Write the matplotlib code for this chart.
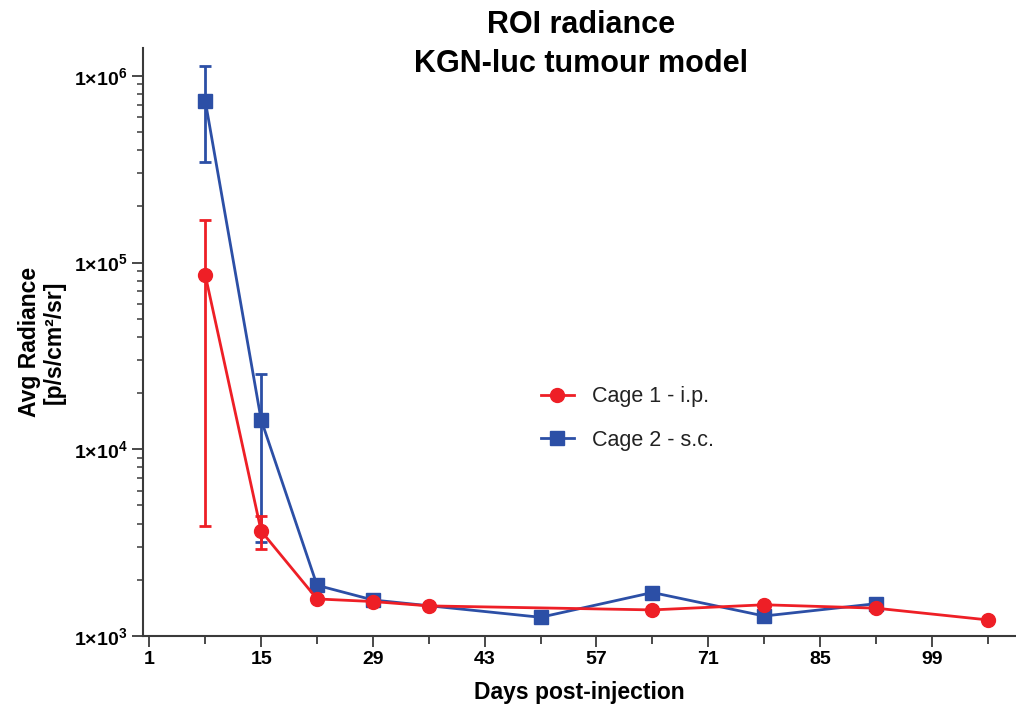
import math
import matplotlib
matplotlib.use("Agg")
import matplotlib.pyplot as plt
from matplotlib.lines import Line2D
from matplotlib.ticker import FixedLocator, LogLocator, NullFormatter, FuncFormatter

plt.rcParams['font.family'] = ['Liberation Sans', 'DejaVu Sans']
plt.rcParams['mathtext.fontset'] = 'custom'
plt.rcParams['mathtext.rm'] = 'Liberation Sans'
plt.rcParams['mathtext.bf'] = 'Liberation Sans:bold'

# Cage 1 - intraperitoneal
days_ip = [8, 15, 22, 29, 36, 64, 78, 92, 106]
radiance_ip = [8.6e4, 3.65e3, 1.58e3, 1.53e3, 1.45e3, 1.38e3, 1.47e3, 1.41e3, 1.22e3]
lower_ip = [3.88e3, 2.94e3, 1.58e3, 1.53e3, 1.45e3, 1.38e3, 1.47e3, 1.41e3, 1.22e3]
upper_ip = [1.69e5, 4.39e3, 1.58e3, 1.53e3, 1.45e3, 1.38e3, 1.47e3, 1.41e3, 1.22e3]

# Cage 2 - subcutaneous
days_sc = [8, 15, 22, 29, 50, 64, 78, 92]
radiance_sc = [7.35e5, 1.44e4, 1.87e3, 1.56e3, 1.26e3, 1.71e3, 1.28e3, 1.49e3]
lower_sc = [3.46e5, 3.2e3, 1.87e3, 1.56e3, 1.26e3, 1.71e3, 1.28e3, 1.49e3]
upper_sc = [1.13e6, 2.53e4, 1.87e3, 1.56e3, 1.26e3, 1.71e3, 1.28e3, 1.49e3]

x_major = [1, 15, 29, 43, 57, 71, 85, 99]
x_minor = [8, 22, 36, 50, 64, 78, 92, 106]
y_major = [1e3, 1e4, 1e5, 1e6]

RED = '#ee1f26'
BLUE = '#2c4fa6'
SPINE = '#3a3a3a'

fig = plt.figure(figsize=(10.16, 7.12), dpi=100)
ax = fig.add_axes([0.1407, 0.1067, 0.859, 0.826])


def errs(vals, lo, hi):
    return [[v - l for v, l in zip(vals, lo)], [h - v for v, h in zip(vals, hi)]]


style = dict(lw=2.0, capsize=4.5, capthick=2.0, elinewidth=2.0)
ax.errorbar(days_sc, radiance_sc, yerr=errs(radiance_sc, lower_sc, upper_sc),
            color=BLUE, marker='s', ms=9.5, zorder=3, **style)
ax.errorbar(days_ip, radiance_ip, yerr=errs(radiance_ip, lower_ip, upper_ip),
            color=RED, marker='o', ms=10, zorder=4, **style)

ax.set_yscale('log')
ax.set_ylim(1e3, 1.41e6)
ax.set_xlim(0.2, 109.5)

ax.xaxis.set_major_locator(FixedLocator(x_major))
ax.xaxis.set_minor_locator(FixedLocator(x_minor))
ax.yaxis.set_major_locator(FixedLocator(y_major))
ax.yaxis.set_minor_locator(LogLocator(base=10, subs=range(2, 10)))
ax.yaxis.set_minor_formatter(NullFormatter())
ax.yaxis.set_major_formatter(FuncFormatter(
    lambda v, p: r'$\mathbf{1{\times}10^{%d}}$' % int(round(math.log10(v)))))

for s in ('top', 'right'):
    ax.spines[s].set_visible(False)
for s in ('left', 'bottom'):
    ax.spines[s].set_color(SPINE)
    ax.spines[s].set_linewidth(1.5)

ax.tick_params(axis='both', which='major', direction='out', length=8, width=1.3,
               color=SPINE, labelsize=14, pad=3)
ax.tick_params(axis='y', which='minor', direction='out', length=4.5, width=1.1, color=SPINE)
ax.tick_params(axis='x', which='minor', direction='out', length=6, width=1.3, color=SPINE)
for lab in ax.get_xticklabels():
    lab.set_fontweight('bold')

ax.set_xlabel('Days post-injection', fontsize=16.5, fontweight='bold', labelpad=9)
ax.set_ylabel('Avg Radiance\n[p/s/cm²/sr]', fontsize=16.5, fontweight='bold',
              labelpad=6, linespacing=1.1)

fig.text(0.572, 0.9537, 'ROI radiance', ha='center', va='baseline',
         fontsize=22, fontweight='bold')
fig.text(0.572, 0.8989, 'KGN-luc tumour model', ha='center', va='baseline',
         fontsize=22, fontweight='bold')

handles = [Line2D([], [], color=RED, lw=2.0, marker='o', ms=10),
           Line2D([], [], color=BLUE, lw=2.0, marker='s', ms=9.5)]
labels = ['Cage 1 - i.p.', 'Cage 2 - s.c.']
leg = ax.legend(handles, labels, loc='center left',
                bbox_to_anchor=(0.4335, 0.37), frameon=False, fontsize=15.5,
                handlelength=1.55, labelspacing=1.05, handletextpad=0.85)
for t in leg.get_texts():
    t.set_color('#222222')

fig.savefig('out.png', dpi=100)
